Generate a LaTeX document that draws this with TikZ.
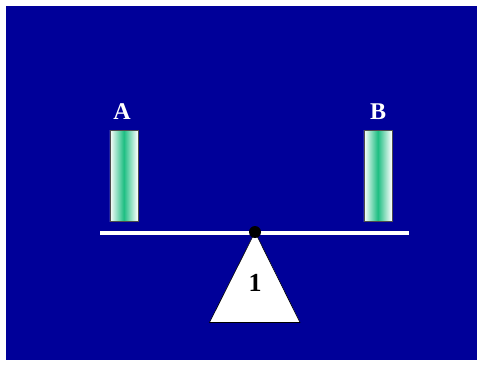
\documentclass[tikz,border=0pt]{standalone}
\usepackage{fontspec}
\setmainfont{Liberation Serif}
\definecolor{bgblue}{RGB}{0,0,153}
\definecolor{bargreen}{RGB}{30,190,130}
\begin{document}
\begin{tikzpicture}[x=1pt,y=-1pt,
  weight/.style={draw=black!70, line width=0.6pt, left color=white, right color=white, middle color=bargreen, minimum width=28pt, minimum height=91pt, inner sep=0pt, anchor=north west},
  lab/.style={text=white, font=\fontsize{24}{24}\selectfont\bfseries, inner sep=0pt},
  num/.style={text=black, font=\fontsize{26}{26}\selectfont\bfseries, inner sep=0pt}]
\useasboundingbox (0,0) rectangle (482,365);
\fill[bgblue] (6,6) rectangle (477,360);
% beam
\coordinate (bl) at (100,233);
\coordinate (br) at (409,233);
\draw[white, line width=4pt] (bl) -- (br);
% fulcrum
\coordinate (apex) at (255,232);
\coordinate (baseL) at (209.5,322.5);
\coordinate (baseR) at (300,322.5);
\filldraw[fill=white, draw=black, line width=0.6pt] (apex) -- (baseL) -- (baseR) -- cycle;
\fill[black] (apex) circle (6pt);
\node[num] (one) at (255,283) {1};
% weights
\node[weight] (barA) at (109.5,130) {};
\node[weight] (barB) at (363.5,130) {};
\node[lab] (labA) at (122,112) {A};
\node[lab] (labB) at (378,112) {B};
\end{tikzpicture}
\end{document}
